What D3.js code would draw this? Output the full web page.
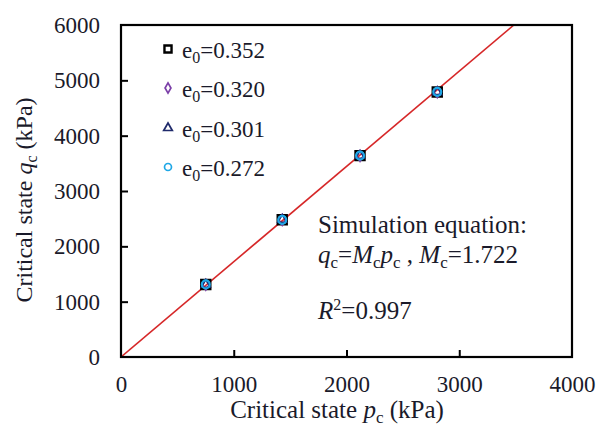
<!DOCTYPE html>
<html lang="en">
<head>
<meta charset="UTF-8">
<title>Critical state q-p</title>
<script src="https://d3js.org/d3.v7.min.js"></script>
<style>
  body { margin: 0; background: #fff; }
  svg text { font-family: "Liberation Serif", "DejaVu Serif", serif !important; fill: #1a1a2a; }
</style>
</head>
<body>
<script>
// data
const seriesNames = ["e0=0.352", "e0=0.320", "e0=0.301", "e0=0.272"];
const pValues = [752, 1430, 2120, 2805];
const qSeries = [
  [1310, 2480, 3640, 4790],
  [1305, 2478, 3635, 4785],
  [1308, 2482, 3638, 4788],
  [1312, 2479, 3641, 4792]
];
const xTicks = [0, 1000, 2000, 3000, 4000];
const yTicks = [0, 1000, 2000, 3000, 4000, 5000, 6000];
const Mc = 1.722;

const width = 598, height = 429;
const margin = {left: 121, right: 26, top: 25, bottom: 72};

const svg = d3.select("body").append("svg")
    .attr("width", width)
    .attr("height", height);

const x = d3.scaleLinear().domain([0, 4000]).range([margin.left, width - margin.right]);
const y = d3.scaleLinear().domain([0, 6000]).range([height - margin.bottom, margin.top]);

svg.append("clipPath").attr("id", "clip")
    .append("rect")
    .attr("x", x(0)).attr("y", y(6000))
    .attr("width", x(4000) - x(0)).attr("height", y(0) - y(6000));

// fitted line
svg.append("line")
    .attr("clip-path", "url(#clip)")
    .attr("x1", x(0)).attr("y1", y(0))
    .attr("x2", x(6000 / Mc)).attr("y2", y(6000))
    .attr("stroke", "#d62728")
    .attr("stroke-width", 1.6);

// frame
svg.append("rect")
    .attr("x", x(0)).attr("y", y(6000))
    .attr("width", x(4000) - x(0)).attr("height", y(0) - y(6000))
    .attr("fill", "none")
    .attr("stroke", "#000")
    .attr("stroke-width", 2.2);

// axes with inward ticks
const xAxis = svg.append("g")
    .attr("transform", `translate(0,${y(0)})`)
    .call(d3.axisBottom(x).tickValues(xTicks).tickFormat(d3.format("d"))
      .tickSizeInner(-7).tickSizeOuter(0).tickPadding(19));
const yAxis = svg.append("g")
    .attr("transform", `translate(${x(0)},0)`)
    .call(d3.axisLeft(y).tickValues(yTicks).tickFormat(d3.format("d"))
      .tickSizeInner(-7).tickSizeOuter(0).tickPadding(21));

[xAxis, yAxis].forEach(g => {
  g.select(".domain").remove();
  g.selectAll("line").attr("stroke", "#000").attr("stroke-width", 2);
  g.selectAll("text").style("font-size", "23px");
});
xAxis.selectAll(".tick").filter(d => d === 0 || d === 4000).select("line").remove();
yAxis.selectAll(".tick").filter(d => d === 0 || d === 6000).select("line").remove();

// markers
const shapes = [
  {sym: d3.symbolSquare, size: 85, color: "#000000", sw: 2.2},
  {sym: d3.symbolDiamond, size: 34, color: "#7b3fa8", sw: 1.6},
  {sym: d3.symbolTriangle, size: 34, color: "#1f2a6b", sw: 1.6},
  {sym: d3.symbolCircle, size: 50, color: "#1ea7e6", sw: 2.2}
];

qSeries.forEach((qs, i) => {
  const s = shapes[i];
  svg.append("g").selectAll("path")
    .data(qs)
    .join("path")
    .attr("transform", (d, j) => `translate(${x(pValues[j])},${y(d)})`)
    .attr("d", d3.symbol().type(s.sym).size(s.size))
    .attr("fill", "none")
    .attr("stroke", s.color)
    .attr("stroke-width", s.sw);
});

const sub = (t, s, size) => {
  t.append("tspan").attr("dy", 5).style("font-size", size + "px").text(s);
};

// legend
const legendY = [49, 88, 128, 167];
const legendShapes = [
  {sym: d3.symbolSquare, size: 50},
  {sym: d3.symbolDiamond, size: 30},
  {sym: d3.symbolTriangle, size: 32},
  {sym: d3.symbolCircle, size: 38}
];
seriesNames.forEach((name, i) => {
  const g = svg.append("g").attr("transform", `translate(168,${legendY[i]})`);
  g.append("path")
    .attr("d", d3.symbol().type(legendShapes[i].sym).size(legendShapes[i].size))
    .attr("fill", "none")
    .attr("stroke", shapes[i].color)
    .attr("stroke-width", i === 0 ? 2.4 : 1.7);
  const t = g.append("text").attr("x", 14).attr("y", 9).style("font-size", "23px");
  t.append("tspan").text("e");
  sub(t, "0", 16);
  t.append("tspan").attr("dy", -5).text("=" + name.split("=")[1]);
});

// annotation
const ann = svg.append("g").style("font-size", "25px");
ann.append("text").attr("x", 318).attr("y", 233).text("Simulation equation:");
const eq = ann.append("text").attr("x", 318).attr("y", 263);
eq.append("tspan").style("font-style", "italic").text("q");
sub(eq, "c", 17);
eq.append("tspan").attr("dy", -5).text("=");
eq.append("tspan").style("font-style", "italic").text("M");
sub(eq, "c", 17);
eq.append("tspan").attr("dy", -5).style("font-style", "italic").text("p");
sub(eq, "c", 17);
eq.append("tspan").attr("dy", -5).text(" , ");
eq.append("tspan").style("font-style", "italic").text("M");
sub(eq, "c", 17);
eq.append("tspan").attr("dy", -5).text("=" + Mc);
const r2 = ann.append("text").attr("x", 318).attr("y", 319);
r2.append("tspan").style("font-style", "italic").text("R");
r2.append("tspan").attr("dy", -9).style("font-size", "16px").text("2");
r2.append("tspan").attr("dy", 9).text("=0.997");

// axis titles
const xt = svg.append("text")
    .attr("x", 337)
    .attr("y", 418)
    .attr("text-anchor", "middle")
    .style("font-size", "25px");
xt.append("tspan").text("Critical state ");
xt.append("tspan").style("font-style", "italic").text("p");
sub(xt, "c", 17);
xt.append("tspan").attr("dy", -5).text(" (kPa)");

const yt = svg.append("text")
    .attr("transform", `translate(32,200) rotate(-90)`)
    .attr("text-anchor", "middle")
    .style("font-size", "24px");
yt.append("tspan").text("Critical state  ");
yt.append("tspan").style("font-style", "italic").text("q");
sub(yt, "c", 16);
yt.append("tspan").attr("dy", -5).text(" (kPa)");
</script>
</body>
</html>
